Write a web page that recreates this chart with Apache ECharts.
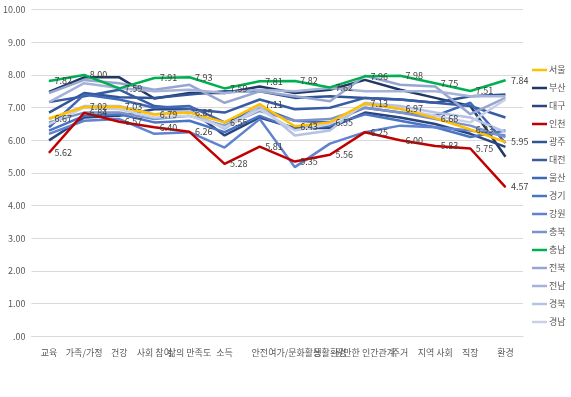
<!DOCTYPE html>
<html>
<head>
<meta charset="utf-8">
<script src="https://cdn.jsdelivr.net/npm/echarts@6/dist/echarts.min.js"></script>
<style>html,body{margin:0;padding:0;background:#fff}#c{width:571px;height:397px}</style>
</head>
<body>
<div id="c"></div>
<script>
const categories = ['교육','가족/가정','건강','사회 참여','삶의 만족도','소득','안전','여가/문화활동','생활환경','원만한 인간관계','주거','지역 사회','직장','환경'];
const yTickLabels = ['.00','1.00','2.00','3.00','4.00','5.00','6.00','7.00','8.00','9.00','10.00'];
const regions = ['서울','부산','대구','인천','광주','대전','울산','경기','강원','충북','충남','전북','전남','경북','경남'];
const colors = ['#FFC000','#1F3864','#2B467E','#C00000','#2F5597','#375CA4','#3F68BA','#4A75C5','#5F83CF','#7C92C8','#00B050','#97A6D1','#A6B2D7','#B5C2E3','#C8D0E7'];
const labeled = ['서울','인천','충남'];

const seoul    = [6.67,7.02,7.03,6.79,6.85,6.55,7.11,6.43,6.55,7.13,6.97,6.68,6.33,5.95];
const busan    = [7.48,7.93,7.93,7.28,7.45,7.45,7.65,7.45,7.55,7.85,7.55,7.30,7.05,5.50];
const daegu    = [6.00,6.70,6.75,6.95,6.95,6.15,6.70,6.38,6.38,6.85,6.70,6.50,6.20,5.80];
const incheon  = [5.62,6.84,6.57,6.40,6.26,5.28,5.81,5.35,5.56,6.25,6.00,5.83,5.75,4.57];
const gwangju  = [6.85,7.45,7.32,7.30,7.40,7.50,7.50,7.30,7.35,7.30,7.25,7.15,7.35,7.40];
const daejeon  = [7.17,7.35,7.55,7.05,6.95,6.85,7.25,6.95,7.00,7.30,7.25,7.15,7.05,6.70];
const ulsan    = [6.40,7.40,7.25,7.00,7.05,6.55,7.00,6.60,6.55,7.00,6.85,6.75,7.15,5.92];
const gyeonggi = [6.30,6.75,6.80,6.55,6.60,6.25,6.75,6.35,6.45,6.80,6.60,6.40,6.10,6.30];
const gangwon  = [6.20,6.60,6.65,6.20,6.25,5.78,6.65,5.18,5.90,6.25,6.45,6.40,6.30,6.15];
const chungbuk = [6.55,6.85,6.85,6.65,6.75,6.45,6.90,6.60,6.65,7.00,6.85,6.65,6.45,6.10];
const chungnam = [7.82,8.00,7.59,7.91,7.93,7.59,7.81,7.82,7.62,7.96,7.98,7.75,7.51,7.84];
const jeonbuk  = [7.45,7.85,7.75,7.55,7.70,7.15,7.50,7.35,7.20,7.98,7.70,7.65,6.80,7.30];
const jeonnam  = [7.17,7.75,7.60,7.50,7.55,7.45,7.55,7.50,7.60,7.50,7.50,7.50,7.35,7.35];
const gyeongbuk= [6.65,7.05,7.05,6.80,6.90,6.35,7.05,6.15,6.30,7.15,7.05,6.85,6.70,6.25];
const gyeongnam= [6.50,7.00,6.95,6.70,6.75,6.40,6.95,6.30,6.50,7.10,6.95,6.75,6.55,7.25];

const values = [seoul,busan,daegu,incheon,gwangju,daejeon,ulsan,gyeonggi,gangwon,chungbuk,chungnam,jeonbuk,jeonnam,gyeongbuk,gyeongnam];

const FONT = "'Noto Sans CJK KR', 'Noto Sans', sans-serif";
const chart = echarts.init(document.getElementById('c'), null, {renderer:'canvas'});

const series = regions.map((name,i)=>{
  const lab = labeled.includes(name);
  return {
    name: name,
    type: 'line',
    data: values[i],
    showSymbol: lab,
    showAllSymbol: true,
    symbol: 'circle',
    symbolSize: 1,
    z: lab ? 5 : 2,
    lineStyle: {width: 2.5, color: colors[i]},
    itemStyle: {color: colors[i]},
    emphasis: {disabled: true},
    label: {
      show: lab, position: 'right', distance: 5,
      fontSize: 9, color: '#404040', fontFamily: FONT,
      formatter: function (p) { return Number(p.value).toFixed(2); }
    }
  };
});

chart.setOption({
  animation: false,
  backgroundColor: '#ffffff',
  textStyle: {fontFamily: FONT},
  grid: {left: 27, right: 48, top: 9.7, bottom: 60.7, containLabel: false},
  legend: {
    orient: 'vertical', left: 527, top: 59,
    data: regions,
    icon: 'rect', itemWidth: 15, itemHeight: 2.5, itemGap: 6,
    textStyle: {fontSize: 9, color: '#595959', fontFamily: FONT, lineHeight: 12, padding: [0,0,0,-3]}
  },
  xAxis: {
    type: 'category', data: categories, boundaryGap: true,
    axisLine: {show: true, lineStyle: {color: '#D9D9D9', width: 1}},
    axisTick: {show: false},
    axisLabel: {interval: 0, hideOverlap: false, fontSize: 9, color: '#595959', margin: 12, fontFamily: FONT}
  },
  yAxis: {
    type: 'value', min: 0, max: 10, interval: 1,
    axisLine: {show: false}, axisTick: {show: false},
    splitLine: {lineStyle: {color: '#D9D9D9', width: 1}},
    axisLabel: {fontSize: 9, color: '#595959', margin: 6, fontFamily: FONT,
      formatter: function (v) { return yTickLabels[Math.round(v)]; }}
  },
  series: series
});
</script>
</body>
</html>
